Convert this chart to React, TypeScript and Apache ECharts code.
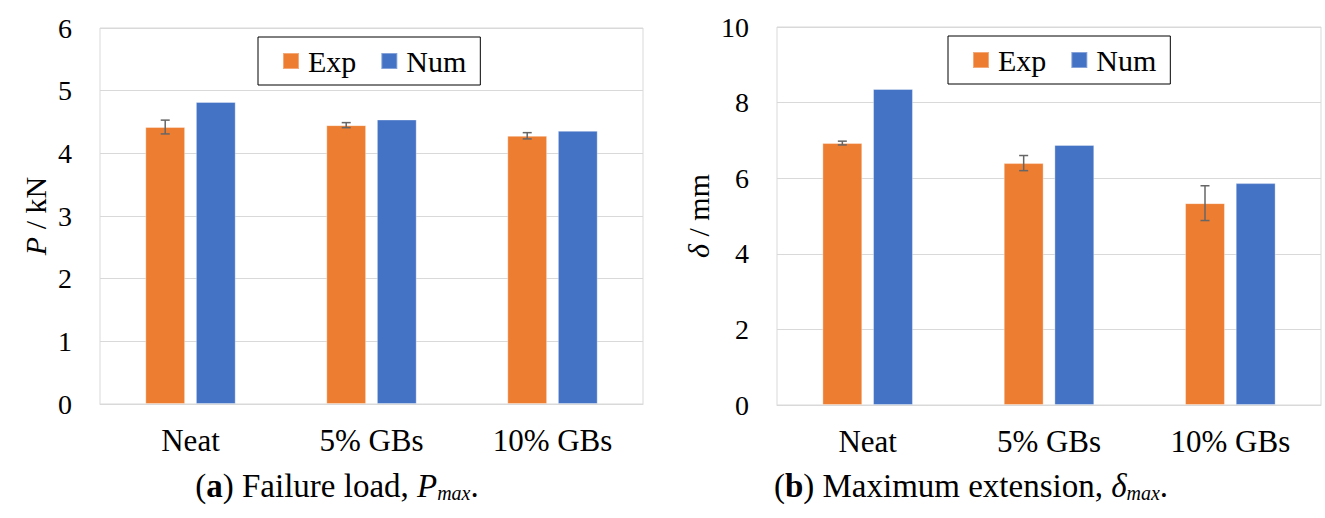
import React, { useEffect, useRef } from "react";
import * as echarts from "echarts";

const categories = ["Neat", "5% GBs", "10% GBs"];
const expLoad = [4.42, 4.45, 4.28];
const expLoadErr = [0.11, 0.04, 0.05];
const numLoad = [4.82, 4.54, 4.36];
const expExt = [6.93, 6.4, 5.34];
const expExtErr = [0.05, 0.2, 0.46];
const numExt = [8.36, 6.88, 5.87];

const FONT = "Liberation Serif";
const ORANGE = "#ED7D31";
const BLUE = "#4472C4";
const GRIDC = "#d9d9d9";
const BAR_W = 0.22;
const BAR_GAP = 0.27;

function errSeries(idx: number, vals: number[], errs: number[]) {
  return {
    type: "custom",
    name: "err" + idx,
    xAxisIndex: idx,
    yAxisIndex: idx,
    z: 10,
    encode: { x: 0, y: 1 },
    data: vals.map((v, i) => [i, v, errs[i]]),
    renderItem: (params: any, api: any) => {
      const xi = api.value(0);
      const v = api.value(1);
      const e = api.value(2);
      const band = api.size([1, 0])[0];
      const off = -(band * BAR_W * (1 + BAR_GAP)) / 2;
      const t = api.coord([xi, v + e]);
      const b = api.coord([xi, v - e]);
      const cx = t[0] + off;
      const st = { stroke: "#666666", lineWidth: 1.5 };
      const cap = 4.5;
      return {
        type: "group",
        children: [
          { type: "line", shape: { x1: cx, y1: t[1], x2: cx, y2: b[1] }, style: st },
          { type: "line", shape: { x1: cx - cap, y1: t[1], x2: cx + cap, y2: t[1] }, style: st },
          { type: "line", shape: { x1: cx - cap, y1: b[1], x2: cx + cap, y2: b[1] }, style: st },
        ],
      };
    },
  };
}

function barSeries(idx: number, name: string, vals: number[], color: string) {
  return {
    type: "bar",
    name,
    xAxisIndex: idx,
    yAxisIndex: idx,
    data: vals,
    barWidth: BAR_W * 100 + "%",
    barGap: BAR_GAP * 100 + "%",
    itemStyle: { color, borderColor: "rgba(255,255,255,0.35)", borderWidth: 1 },
  };
}

function legend(left: number, top: number) {
  return {
    left,
    top,
    orient: "horizontal",
    data: ["Exp", "Num"],
    selectedMode: false,
    icon: "rect",
    itemWidth: 16,
    itemHeight: 16,
    itemGap: 24,
    borderColor: "#000",
    borderWidth: 1,
    padding: [9, 14, 9, 24],
    textStyle: { fontFamily: FONT, fontSize: 30, color: "#000", lineHeight: 30, padding: [0, 0, 0, 4] },
  };
}

export default function App() {
  const ref = useRef<HTMLDivElement>(null);
  useEffect(() => {
    if (!ref.current) return;
    const chart = echarts.init(ref.current, null, { renderer: "svg" });
    const xAxis = (gi: number) => ({
      type: "category",
      gridIndex: gi,
      data: categories,
      axisTick: { show: false },
      axisLine: { lineStyle: { color: GRIDC, width: 1 } },
      axisLabel: { fontFamily: FONT, fontSize: 31, color: "#000", margin: 21 },
    });
    const yAxis = (gi: number, max: number, interval: number, name: string, gap: number) => ({
      type: "value",
      gridIndex: gi,
      min: 0,
      max,
      interval,
      name,
      nameLocation: "middle",
      nameGap: gap,
      nameRotate: 90,
      nameTextStyle: {
        fontFamily: FONT,
        fontSize: 30,
        color: "#000",
        rich: {
          n: { fontFamily: FONT, fontSize: 30, color: "#000" },
          i: { fontFamily: FONT, fontSize: 30, fontStyle: "italic", color: "#000" },
        },
      },
      axisLine: { show: false },
      axisTick: { show: false },
      splitLine: { lineStyle: { color: GRIDC, width: 1 } },
      axisLabel: { fontFamily: FONT, fontSize: 28, color: "#000", margin: 28 },
    });
    const capRich = {
      n: { fontFamily: FONT, fontSize: 33, color: "#000" },
      b: { fontFamily: FONT, fontSize: 33, fontWeight: "bold", color: "#000" },
      i: { fontFamily: FONT, fontSize: 33, fontStyle: "italic", color: "#000" },
      s: { fontFamily: FONT, fontSize: 20, fontStyle: "italic", color: "#000", verticalAlign: "bottom", padding: [10, 0, 0, 0] },
    };
    chart.setOption({
      animation: false,
      backgroundColor: "#fff",
      textStyle: { fontFamily: FONT },
      grid: [
        { left: 100, top: 28, width: 543, height: 376, show: true, borderColor: GRIDC, borderWidth: 1 },
        { left: 777, top: 27, width: 544, height: 378, show: true, borderColor: GRIDC, borderWidth: 1 },
      ],
      legend: [legend(258, 37), legend(948, 36)],
      xAxis: [xAxis(0), xAxis(1)],
      yAxis: [yAxis(0, 6, 1, "{i|P}{n| / kN}", 50), yAxis(1, 10, 2, "{i|δ}{n| / mm}", 64)],
      series: [
        barSeries(0, "Exp", expLoad, ORANGE),
        barSeries(0, "Num", numLoad, BLUE),
        errSeries(0, expLoad, expLoadErr),
        barSeries(1, "Exp", expExt, ORANGE),
        barSeries(1, "Num", numExt, BLUE),
        errSeries(1, expExt, expExtErr),
      ],
      graphic: [
        {
          type: "text",
          x: 337,
          y: 486,
          style: {
            text: "{n|(}{b|a}{n|) Failure load, }{i|P}{s|max}{n|.}",
            fontFamily: FONT,
            fontSize: 33,
            rich: capRich,
            align: "center",
            verticalAlign: "middle",
          },
        },
        {
          type: "text",
          x: 971,
          y: 486,
          style: {
            text: "{n|(}{b|b}{n|) Maximum extension, }{i|δ}{s|max}{n|.}",
            fontFamily: FONT,
            fontSize: 33,
            rich: capRich,
            align: "center",
            verticalAlign: "middle",
          },
        },
      ],
    });
    return () => chart.dispose();
  }, []);
  return (
    <>
      <style>{`#chartbox svg text { font-family: "Liberation Serif", "Times New Roman", serif !important; }`}</style>
      <div id="chartbox" ref={ref} style={{ position: "fixed", left: 0, top: 0, width: 1325, height: 518 }} />
    </>
  );
}
